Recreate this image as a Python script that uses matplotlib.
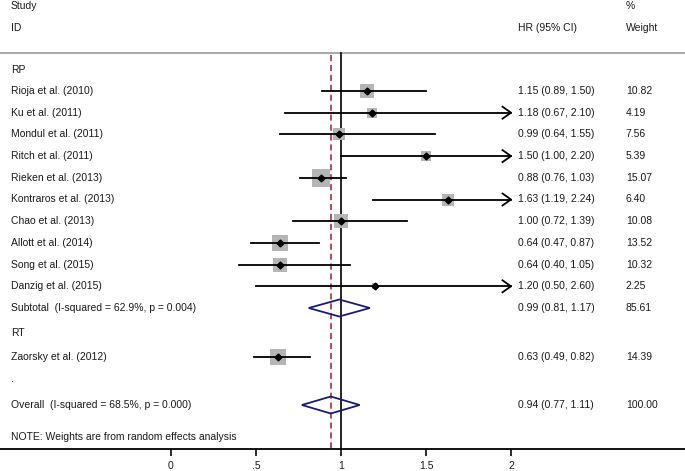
import matplotlib
matplotlib.use("Agg")
import matplotlib.pyplot as plt
from matplotlib import font_manager
import numpy as np

# the reference uses a narrow Arial-like face
installed = {f.name for f in font_manager.fontManager.ttflist}
if 'Liberation Sans Narrow' in installed:
    plt.rcParams['font.family'] = ['Liberation Sans Narrow', 'DejaVu Sans']
    fs = 9.2
else:
    plt.rcParams['font.family'] = ['Liberation Sans', 'DejaVu Sans']
    fs = 7.5

# study data
studies = ['Rioja et al. (2010)', 'Ku et al. (2011)', 'Mondul et al. (2011)',
           'Ritch et al. (2011)', 'Rieken et al. (2013)', 'Kontraros et al. (2013)',
           'Chao et al. (2013)', 'Allott et al. (2014)', 'Song et al. (2015)',
           'Danzig et al. (2015)']
hr = [1.15, 1.18, 0.99, 1.50, 0.88, 1.63, 1.00, 0.64, 0.64, 1.20]
lo = [0.89, 0.67, 0.64, 1.00, 0.76, 1.19, 0.72, 0.47, 0.40, 0.50]
hi = [1.50, 2.10, 1.55, 2.20, 1.03, 2.24, 1.39, 0.87, 1.05, 2.60]
weight = [10.82, 4.19, 7.56, 5.39, 15.07, 6.40, 10.08, 13.52, 10.32, 2.25]

rt_study = 'Zaorsky et al. (2012)'
rt_hr, rt_lo, rt_hi, rt_w = 0.63, 0.49, 0.82, 14.39

sub_label = 'Subtotal  (I-squared = 62.9%, p = 0.004)'
sub_hr, sub_lo, sub_hi, sub_w = 0.99, 0.81, 1.17, 85.61
all_label = 'Overall  (I-squared = 68.5%, p = 0.000)'
all_hr, all_lo, all_hi, all_w = 0.94, 0.77, 1.11, 100.00

xticks = [0, 0.5, 1, 1.5, 2]
xticklabels = ['0', '.5', '1', '1.5', '2']

# layout (row positions, pixel-like units from top)
study_y = [91 + 21.7 * i for i in range(10)]
sub_y, rt_head_y, rt_y, dot_y, all_y, note_y = 308, 333, 357, 379, 405, 437
x_lab, x_hr, x_w = -0.941, 2.041, 2.676
xmax_clip = 2.0

fig = plt.figure(figsize=(6.85, 4.71), dpi=100)
ax = fig.add_axes([0, 22 / 471, 1, 449 / 471])
ax.set_xlim(-171 / 170, (685 - 171) / 170)
ax.set_ylim(449, 0)
for s in ['top', 'left', 'right']:
    ax.spines[s].set_visible(False)
ax.spines['bottom'].set_linewidth(1.3)
ax.set_yticks([])
ax.set_xticks(xticks)
ax.set_xticklabels(xticklabels)
ax.tick_params(axis='x', direction='out', length=5, width=1.3, pad=3.5,
               labelsize=fs, colors='#1a1a1a')

tc = '#1a1a1a'


def txt(x, y, s):
    ax.text(x, y, s, ha='left', va='center', fontsize=fs, color=tc)


# header
txt(x_lab, 6, 'Study')
txt(x_lab, 28, 'ID')
txt(x_hr, 28, 'HR (95% CI)')
txt(x_w, 6, '%')
txt(x_w, 28, 'Weight')
ax.axhline(53, color='#999999', lw=1.2)

# reference lines
ax.plot([1, 1], [53, 449], color='black', lw=1.2)
ax.plot([all_hr, all_hr], [55, 449], color='#a01c2a', lw=1.1, ls=(0, (4, 2.5)))

txt(x_lab, 70, 'RP')


def study_row(name, y, h, l, u, w):
    txt(x_lab, y, name)
    side = 4.4 * np.sqrt(w) * 0.72
    ax.scatter([h], [y], marker='s', s=side ** 2, color='#b5b5b5', zorder=2, lw=0)
    ax.plot([l, min(u, xmax_clip)], [y, y], color='black', lw=1.3, zorder=3)
    if u > xmax_clip:
        ax.plot([xmax_clip - 0.05, xmax_clip, xmax_clip - 0.05], [y - 6, y, y + 6],
                color='black', lw=1.3, zorder=3)
    ax.plot([h], [y], marker='D', ms=3.5, color='black', zorder=4)
    txt(x_hr, y, f'{h:.2f} ({l:.2f}, {u:.2f})')
    txt(x_w, y, f'{w:.2f}')


for i in range(len(studies)):
    study_row(studies[i], study_y[i], hr[i], lo[i], hi[i], weight[i])


def diamond_row(name, y, h, l, u, w):
    txt(x_lab, y, name)
    ax.fill([l, h, u, h, l], [y, y - 8.5, y, y + 8.5, y], facecolor='none',
            edgecolor='#1c1c78', lw=1.3, zorder=4)
    txt(x_hr, y, f'{h:.2f} ({l:.2f}, {u:.2f})')
    txt(x_w, y, f'{w:.2f}')


diamond_row(sub_label, sub_y, sub_hr, sub_lo, sub_hi, sub_w)
txt(x_lab, rt_head_y, 'RT')
study_row(rt_study, rt_y, rt_hr, rt_lo, rt_hi, rt_w)
txt(x_lab, dot_y, '.')
diamond_row(all_label, all_y, all_hr, all_lo, all_hi, all_w)
txt(x_lab, note_y, 'NOTE: Weights are from random effects analysis')

fig.savefig('out.png', dpi=100, facecolor='white')
